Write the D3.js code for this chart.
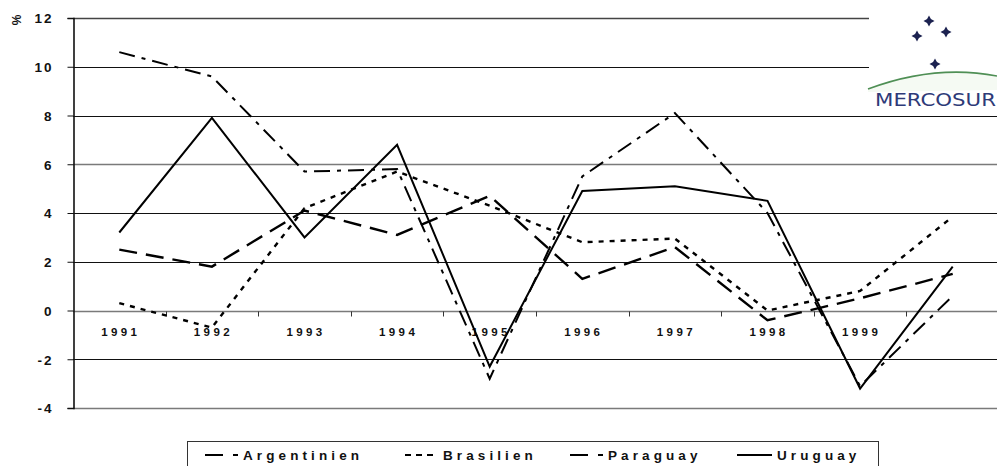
<!DOCTYPE html>
<html>
<head>
<meta charset="utf-8">
<script src="https://cdn.jsdelivr.net/npm/d3@7"></script>
<style>
  body { margin: 0; background: #fff; }
  svg { display: block; font-family: Arial, "Liberation Sans", sans-serif; }
</style>
</head>
<body>
<script>
// data
const years = ["1991", "1992", "1993", "1994", "1995", "1996", "1997", "1998", "1999", "2000"]
const xLabels = ["1991", "1992", "1993", "1994", "1995", "1996", "1997", "1998", "1999", ""]
const yTicks = [-4, -2, 0, 2, 4, 6, 8, 10, 12]

const argentinien = [10.6, 9.6, 5.7, 5.8, -2.8, 5.5, 8.1, 4.0, -3.1, 0.6]
const brasilien = [0.3, -0.7, 4.2, 5.7, 4.3, 2.8, 2.95, 0.0, 0.8, 3.85]
const paraguay = [2.5, 1.8, 4.1, 3.1, 4.7, 1.3, 2.6, -0.4, 0.5, 1.5]
const uruguay = [3.2, 7.9, 3.0, 6.8, -2.3, 4.9, 5.1, 4.5, -3.2, 1.8]

const W = 997, H = 466
const margin = { top: 18, left: 73, bottom: 408, right: 999 }

const svg = d3.select('body').append('svg')
    .attr('width', W)
    .attr('height', H)

const x = d3.scaleBand()
    .domain(years)
    .range([margin.left, margin.right])
const y = d3.scaleLinear()
    .domain([-4, 12])
    .range([margin.bottom, margin.top])

const cx = d => x(d) + x.bandwidth() / 2

// gridlines
const heavy = v => v === 12 || v === 6 || v === 0 || v === -4
svg.append('g')
  .selectAll('line')
  .data(yTicks).enter()
  .append('line')
    .attr('x1', margin.left)
    .attr('x2', W)
    .attr('y1', d => Math.round(y(d)) + 0.5)
    .attr('y2', d => Math.round(y(d)) + 0.5)
    .attr('stroke', d => d === 12 ? '#444' : heavy(d) ? '#7a7a7a' : '#111')
    .attr('stroke-width', d => heavy(d) ? 1.6 : 1)

// x ticks on the zero line (band boundaries)
const y0 = Math.round(y(0)) + 0.5
svg.append('g')
  .selectAll('line')
  .data(years.slice(1)).enter()
  .append('line')
    .attr('x1', d => Math.round(x(d)) + 0.5)
    .attr('x2', d => Math.round(x(d)) + 0.5)
    .attr('y1', y0)
    .attr('y2', y0 + 5)
    .attr('stroke', '#333')

// x labels
svg.append('g')
  .selectAll('text')
  .data(years).enter()
  .append('text')
    .attr('x', d => cx(d) + 1.5)
    .attr('y', y0 + 24)
    .attr('text-anchor', 'middle')
    .style('font-size', '11.5px')
    .style('font-weight', 'bold')
    .style('letter-spacing', '3.4px')
    .attr('fill', '#111')
    .text((d, i) => xLabels[i])

// series
const series = [
  { name: "Argentinien", values: argentinien, dash: '16,7,4,7', width: 2 },
  { name: "Brasilien", values: brasilien, dash: '5,6', width: 2.4 },
  { name: "Paraguay", values: paraguay, dash: '18,9', width: 2.4 },
  { name: "Uruguay", values: uruguay, dash: null, width: 2 }
]

const line = d3.line()
    .x((v, i) => cx(years[i]))
    .y(v => y(v))

svg.append('g')
  .selectAll('path')
  .data(series).enter()
  .append('path')
    .attr('d', d => line(d.values))
    .attr('fill', 'none')
    .attr('stroke', '#000')
    .attr('stroke-width', d => d.width)
    .attr('stroke-dasharray', d => d.dash)
    .attr('stroke-linejoin', 'miter')

// y axis
const yAxis = d3.axisLeft(y)
    .tickValues(yTicks)
    .tickSize(6)
    .tickPadding(14)
    .tickFormat(d => String(d))
const yg = svg.append('g')
    .attr('transform', `translate(${margin.left + 0.5},0)`)
    .call(yAxis)
yg.select('.domain').attr('stroke', '#111').attr('stroke-width', 1.6)
yg.selectAll('.tick line').attr('stroke', '#111')
yg.selectAll('.tick text')
    .style('font-size', '13.5px')
    .style('font-weight', 'bold')
    .style('letter-spacing', '2px')
    .style('font-family', 'Arial, "Liberation Sans", sans-serif')
    .attr('fill', '#111')
    .attr('dy', '0.36em')

svg.append('text')
    .attr('transform', 'translate(21,20) rotate(-90)')
    .attr('text-anchor', 'middle')
    .style('font-size', '12px')
    .style('font-weight', 'bold')
    .attr('fill', '#111')
    .text('%')

// mercosur logo
const logo = svg.append('g')
logo.append('rect')
    .attr('x', 869).attr('y', 0)
    .attr('width', W - 869).attr('height', 113)
    .attr('fill', '#fff')
logo.append('path')
    .attr('d', 'M868,89 Q935,64 997,76 L997,90 L868,92 Z')
    .attr('fill', '#f5faf3')
logo.append('path')
    .attr('d', 'M868,89 Q935,64 997,76')
    .attr('fill', 'none')
    .attr('stroke', '#4f8f55')
    .attr('stroke-width', 1.6)
const stars = [[929, 21], [917, 36], [946, 32], [935, 64]]
const star = (c, r) => {
  const [sx, sy] = c, k = r * 0.35
  return `M${sx},${sy - r} L${sx + k},${sy - k} L${sx + r},${sy} L${sx + k},${sy + k} L${sx},${sy + r} L${sx - k},${sy + k} L${sx - r},${sy} L${sx - k},${sy - k} Z`
}
logo.selectAll('.star')
  .data(stars).enter()
  .append('path')
    .attr('class', 'star')
    .attr('d', d => star(d, 5.5))
    .attr('fill', '#1c2250')
logo.append('text')
    .attr('x', 875)
    .attr('y', 106)
    .attr('textLength', 121)
    .attr('lengthAdjust', 'spacingAndGlyphs')
    .style('font-size', '17px')
    .style('font-family', '"DejaVu Sans Condensed", "DejaVu Sans", sans-serif')
    .attr('fill', '#2e3a78')
    .text('MERCOSUR')

// legend
const legend = svg.append('g')
legend.append('rect')
    .attr('x', 187.5).attr('y', 441.5)
    .attr('width', 691).attr('height', 40)
    .attr('fill', '#fff')
    .attr('stroke', '#333')
const legendPos = [205, 405, 570, 737]
const legendDash = ['18,10,5,40', '6,5', '18,10,5,40', null]
const item = legend.selectAll('.item')
  .data(series).enter()
  .append('g')
    .attr('class', 'item')
    .attr('transform', (d, i) => `translate(${legendPos[i]},455)`)
item.append('line')
    .attr('x1', 0).attr('x2', (d, i) => i === 3 ? 35 : 33)
    .attr('stroke', '#000')
    .attr('stroke-width', 2)
    .attr('stroke-dasharray', (d, i) => legendDash[i])
item.append('text')
    .attr('x', (d, i) => i === 3 ? 40 : 38)
    .attr('y', 5)
    .style('font-size', '13.5px')
    .style('font-weight', 'bold')
    .style('letter-spacing', '4.1px')
    .attr('fill', '#111')
    .text(d => d.name)
</script>
</body>
</html>
